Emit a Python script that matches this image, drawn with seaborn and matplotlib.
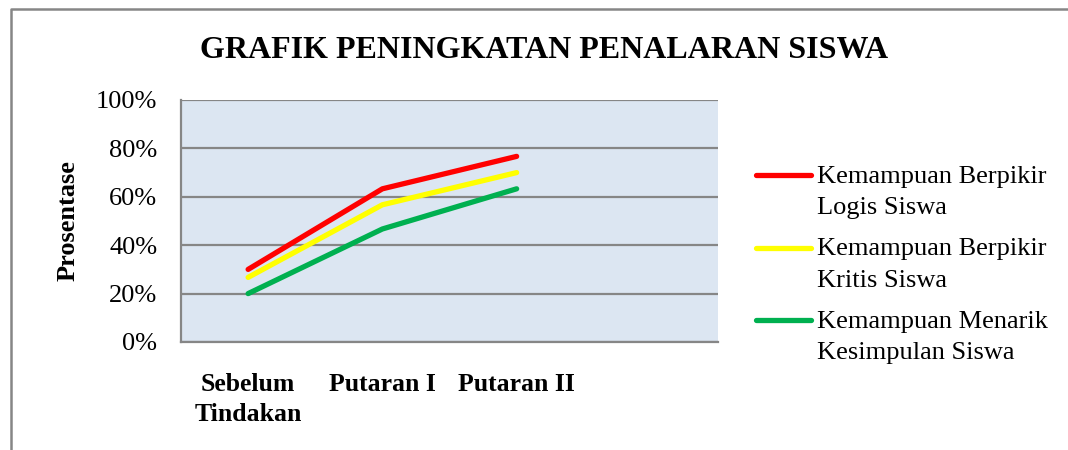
import matplotlib.pyplot as plt
import numpy as np
import pandas as pd
import seaborn as sns
from matplotlib.lines import Line2D

# Data (percent)
categories = ["Sebelum\nTindakan", "Putaran I", "Putaran II", ""]
logis = [30.0, 63.3, 76.7]
kritis = [26.7, 56.7, 70.0]
kesimpulan = [20.0, 46.7, 63.3]
series_names = [
    "Kemampuan Berpikir\nLogis Siswa",
    "Kemampuan Berpikir\nKritis Siswa",
    "Kemampuan Menarik\nKesimpulan Siswa",
]
colors = ["#FF0000", "#FFFF00", "#00B050"]

rows = []
for name, vals in zip(series_names, [logis, kritis, kesimpulan]):
    for i, v in enumerate(vals):
        rows.append({"pos": i, "nilai": v, "seri": name})
df = pd.DataFrame(rows)

sns.set_style("white")
plt.rcParams["font.family"] = ["Liberation Serif", "DejaVu Serif"]
plt.rcParams["text.color"] = "black"
plt.rcParams["xtick.color"] = "black"
plt.rcParams["ytick.color"] = "black"
plt.rcParams["axes.labelcolor"] = "black"

fig = plt.figure(figsize=(10.68, 4.5), dpi=100)
ax = fig.add_axes([181 / 1068, 1 - 342 / 450, 537 / 1068, 242 / 450])
ax.set_facecolor("#DCE6F2")

sns.lineplot(
    data=df, x="pos", y="nilai", hue="seri", palette=colors,
    linewidth=3.8, ax=ax, legend=False, solid_capstyle="round",
)

ax.set_xlim(-0.5, len(categories) - 0.5)
ax.set_ylim(0, 100)
ax.set_yticks(np.arange(0, 101, 20))
ax.set_yticklabels([f"{t}%" for t in range(0, 101, 20)], fontsize=19)
ax.set_xticks(range(len(categories)))
ax.set_xticklabels(categories, fontsize=18.5, fontweight="bold", linespacing=1.4)
ax.tick_params(axis="y", length=0, pad=17)
ax.tick_params(axis="x", length=0, pad=22)
ax.yaxis.grid(True, color="#868686", linewidth=1.6)
ax.set_axisbelow(True)
for s in ["top", "right"]:
    ax.spines[s].set_visible(False)
for s in ["left", "bottom"]:
    ax.spines[s].set_color("#868686")
    ax.spines[s].set_linewidth(1.6)
ax.set_xlabel("")
ax.set_ylabel("Prosentase", fontsize=19, fontweight="bold", labelpad=12)

fig.text(544 / 1068, 1 - 50 / 450, "GRAFIK PENINGKATAN PENALARAN SISWA",
         ha="center", va="center", fontsize=23, fontweight="bold")

handles = [Line2D([], [], color=c, linewidth=3.8, solid_capstyle="round") for c in colors]
leg = fig.legend(handles, series_names, loc="upper left",
                 bbox_to_anchor=(756 / 1068, 1 - 166 / 450), frameon=False,
                 fontsize=19, handlelength=2.1, handletextpad=0.2,
                 labelspacing=0.72, borderaxespad=0, borderpad=0)
for t in leg.get_texts():
    t.set_linespacing(1.55)
# put each handle next to the first line of its label
for col in leg._legend_handle_box.get_children():
    for item in col.get_children():
        item.align = "top"

# outer chart border (top and left visible)
fig.add_artist(Line2D([10.5 / 1068, 10.5 / 1068, 1], [0, 1 - 8.5 / 450, 1 - 8.5 / 450],
                      transform=fig.transFigure, color="#868686", linewidth=1.8))

fig.savefig("out.png", dpi=100)
